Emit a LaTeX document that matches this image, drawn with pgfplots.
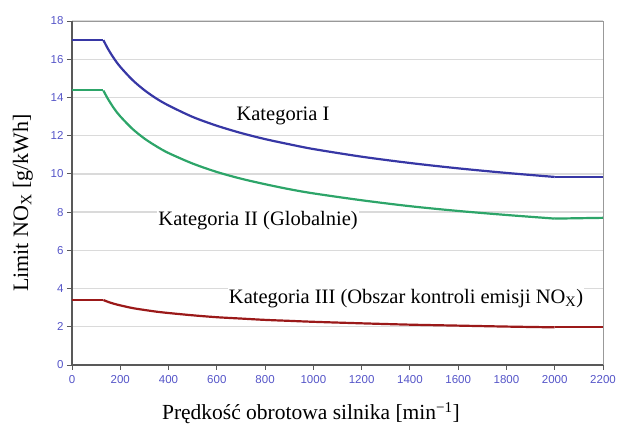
\documentclass[border=0pt]{standalone}
\usepackage{fontspec}
\setmainfont{Liberation Serif}
\newfontfamily\arialf{Liberation Sans}
\usepackage{pgfplots}
\pgfplotsset{compat=1.18}
\definecolor{cI}{RGB}{55,55,165}
\definecolor{cII}{RGB}{45,165,105}
\definecolor{cIII}{RGB}{155,25,25}
\definecolor{tickc}{RGB}{85,85,200}
\definecolor{gridc}{RGB}{218,218,218}
\begin{document}
\begin{tikzpicture}
\path[use as bounding box] (0,0) rectangle (619pt,427pt);
\begin{axis}[
  at={(72pt,62pt)}, anchor=south west,
  width=531pt, height=344pt, scale only axis,
  xmin=0, xmax=2200, ymin=0, ymax=18,
  xtick={0,200,...,2200}, ytick={0,2,...,18},
  ymajorgrids, grid style={gridc, line width=1.4pt},
  axis line style={draw=none},
  tick align=outside, tick pos=left,
  major tick length=5pt,
  tick style={black!65, line width=0.9pt},
  ticklabel style={font=\arialf\fontsize{11.5}{13}\selectfont, text=tickc},
  /pgf/number format/assume math mode=true,
  /pgf/number format/1000 sep={},
  xticklabel style={yshift=-2pt},
  clip=false,
]
\draw[black!40, line width=0.8pt] (rel axis cs:0,1) -- (rel axis cs:1,1) -- (rel axis cs:1,0);
\draw[black!65, line width=1.2pt] (rel axis cs:0,1) -- (rel axis cs:0,0) -- (rel axis cs:1,0);
\addplot[cI, line width=2.2pt, smooth] coordinates {
(0,17.0) (130,17.0)};
\addplot[cI, line width=2.2pt, smooth] coordinates {
(130,17.0) (150,16.52) (175,16.02) (200,15.60) (250,14.92) (300,14.38) (350,13.94) (400,13.58)
(500,12.98) (600,12.52) (700,12.14) (800,11.82) (900,11.55) (1000,11.30)
(1200,10.90) (1400,10.57) (1600,10.29) (1800,10.05) (2000,9.84)};
\addplot[cI, line width=2.2pt] coordinates {(2000,9.84) (2200,9.84)};
\addplot[cII, line width=2.2pt] coordinates {(0,14.4) (130,14.4)};
\addplot[cII, line width=2.2pt, smooth] coordinates {
(130,14.36) (150,13.90) (175,13.41) (200,13.01) (250,12.36) (300,11.85) (350,11.44) (400,11.09)
(500,10.54) (600,10.10) (700,9.75) (800,9.46) (900,9.20) (1000,8.98)
(1200,8.62) (1400,8.31) (1600,8.06) (1800,7.85) (2000,7.66)};
\addplot[cII, line width=2.2pt] coordinates {(2000,7.66) (2200,7.7)};
\addplot[cIII, line width=2.2pt] coordinates {(0,3.4) (130,3.4)};
\addplot[cIII, line width=2.2pt, smooth] coordinates {
(130,3.40) (150,3.30) (175,3.20) (200,3.12) (250,2.98) (300,2.88) (350,2.79) (400,2.72)
(500,2.60) (600,2.50) (700,2.43) (800,2.36) (900,2.31) (1000,2.26)
(1200,2.18) (1400,2.11) (1600,2.06) (1800,2.01) (2000,1.97)};
\addplot[cIII, line width=2.2pt] coordinates {(2000,1.97) (2200,1.97)};
\node[font=\fontsize{20.5}{24}\selectfont] at (axis cs:874,13.03) {Kategoria I};
\node[font=\fontsize{20.5}{24}\selectfont, fill=white, inner sep=1pt] at (axis cs:771,7.55) {Kategoria II (Globalnie)};
\node[font=\fontsize{20.5}{24}\selectfont, fill=white, inner sep=1pt] at (axis cs:1384,3.5) {Kategoria III (Obszar kontroli emisji NO\textsubscript{X})};
\node[font=\fontsize{21.5}{24}\selectfont] at (rel axis cs:0.45,-0.1395) {Prędkość obrotowa silnika [min\textsuperscript{−1}]};
\node[font=\fontsize{22}{24}\selectfont, rotate=90] at (rel axis cs:-0.0923,0.471) {Limit NO\textsubscript{X} [g/kWh]};
\end{axis}
\end{tikzpicture}
\end{document}
